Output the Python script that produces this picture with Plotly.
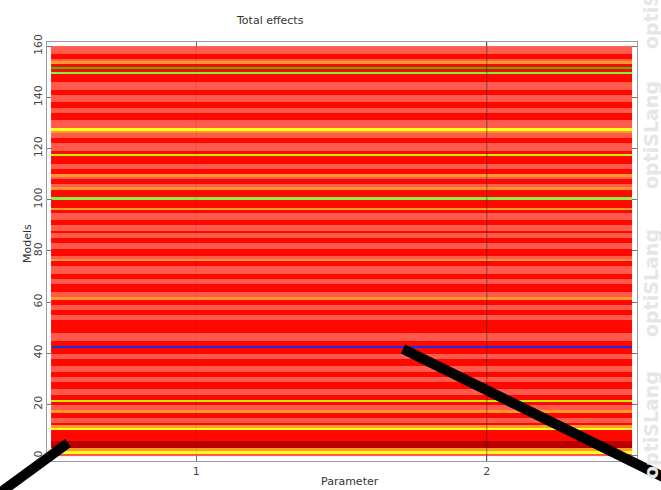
import plotly.graph_objects as go

# ---- data -------------------------------------------------------------
parameters = [1, 2]
models = list(range(1, 161))

# colour class of each model row (bottom = model 1 ... top = model 160)
# B blue, G green, L light green, YG yellow-green, Y yellow, O orange,
# D dark red, R red, S light red
model_class = [
    "S", "Y", "O", "D", "D", "D", "R", "R", "R", "R",
    "Y", "O", "R", "S", "S", "R", "R", "O", "S", "S",
    "R", "YG", "R", "R", "S", "S", "R", "R", "R", "S",
    "S", "R", "R", "S", "S", "R", "R", "R", "S", "S",
    "R", "R", "B", "R", "R", "S", "S", "S", "R", "R",
    "R", "R", "R", "S", "S", "R", "R", "S", "S", "R",
    "R", "O", "S", "S", "R", "R", "R", "S", "S", "R",
    "R", "S", "S", "S", "R", "R", "O", "S", "R", "R",
    "R", "S", "S", "R", "R", "S", "S", "R", "S", "S",
    "R", "R", "S", "S", "S", "R", "O", "R", "R", "R",
    "L", "R", "R", "R", "O", "S", "R", "R", "S", "O",
    "R", "R", "S", "S", "R", "R", "R", "YG", "R", "S",
    "S", "S", "R", "R", "S", "S", "O", "Y", "S", "S",
    "S", "R", "R", "R", "S", "S", "R", "R", "S", "S",
    "S", "R", "R", "S", "S", "S", "R", "R", "R", "L",
    "R", "G", "R", "O", "S", "R", "R", "S", "S", "S",
]

class_order = ["B", "G", "L", "YG", "Y", "O", "D", "R", "S"]
class_colors = ["#1a2ee8", "#3cbf00", "#86f03c", "#c4f000", "#ffff1e",
                "#ff9a28", "#b80000", "#ff0800", "#ff5a4c"]

y_ticks = [0, 20, 40, 60, 80, 100, 120, 140, 160]
x_ticks = [1, 2]

# ---- figure -----------------------------------------------------------
levels = [class_order.index(c) for c in model_class]
z = [[v for _ in parameters] for v in levels]
y_centres = [m - 0.5 for m in models]

n = len(class_order)
colorscale = []
for i, col in enumerate(class_colors):
    colorscale.append([i / n, col])
    colorscale.append([(i + 1) / n, col])

fig = go.Figure(go.Heatmap(
    x=parameters, y=y_centres, z=z,
    zmin=-0.5, zmax=n - 0.5,
    colorscale=colorscale, showscale=False, zsmooth=False,
    hoverinfo="skip",
))

axis_common = dict(
    showgrid=False, zeroline=False, showline=True, linecolor="#9a9a9a",
    linewidth=1, mirror="ticks", ticks="inside", ticklen=5,
    tickcolor="#777777", tickfont=dict(family="DejaVu Sans", size=11, color="#444444"),
)

fig.update_xaxes(range=[0.486, 2.517], tickvals=x_ticks, **axis_common)
fig.update_yaxes(range=[-2.1, 161.6], tickvals=y_ticks, tickangle=-90, **axis_common)

shapes = []
# vertical guide lines at the parameter positions
shapes.append(dict(type="line", xref="x", yref="paper", x0=2, x1=2, y0=0, y1=1,
                   line=dict(color="rgba(40,40,40,0.55)", width=1), layer="above"))
shapes.append(dict(type="line", xref="x", yref="paper", x0=1, x1=1, y0=0, y1=1,
                   line=dict(color="rgba(40,40,40,0.10)", width=1), layer="above"))
# black strokes drawn over the picture
shapes.append(dict(type="line", xref="paper", yref="paper",
                   x0=0.0356, y0=0.0430, x1=-0.0966, y1=-0.0931,
                   line=dict(color="black", width=10), layer="above"))
shapes.append(dict(type="line", xref="paper", yref="paper",
                   x0=0.6034, y0=0.2673, x1=1.1068, y1=-0.0811,
                   line=dict(color="black", width=10), layer="above"))

annotations = [
    dict(text="Total effects", xref="paper", yref="paper", x=0.378, y=1.0525,
         showarrow=False, xanchor="center", yanchor="middle",
         font=dict(family="DejaVu Sans", size=11, color="#333333")),
    dict(text="Parameter", xref="paper", yref="paper", x=0.5136, y=-0.049,
         showarrow=False, xanchor="center", yanchor="middle",
         font=dict(family="DejaVu Sans", size=11, color="#333333")),
    dict(text="Models", xref="paper", yref="paper", x=-0.034, y=0.52,
         showarrow=False, xanchor="center", yanchor="middle", textangle=-90,
         font=dict(family="DejaVu Sans", size=11, color="#333333")),
]
# watermark text on the right side
for yc in [-5, 135, 283, 425]:
    annotations.append(dict(
        text="<b>optiSLang</b>", xref="paper", yref="paper",
        x=(651 - 47) / 590, y=(461 - yc) / 419,
        showarrow=False, xanchor="center", yanchor="middle", textangle=-90,
        font=dict(family="DejaVu Sans", size=19, color="#e6e6e6"),
    ))

fig.update_layout(
    width=661, height=490,
    margin=dict(l=47, r=24, t=42, b=29),
    paper_bgcolor="white", plot_bgcolor="white",
    shapes=shapes, annotations=annotations,
)

fig.write_html("out.html", config={"displayModeBar": False},
               post_script="document.body.style.margin='0';document.body.style.overflow='hidden';")
